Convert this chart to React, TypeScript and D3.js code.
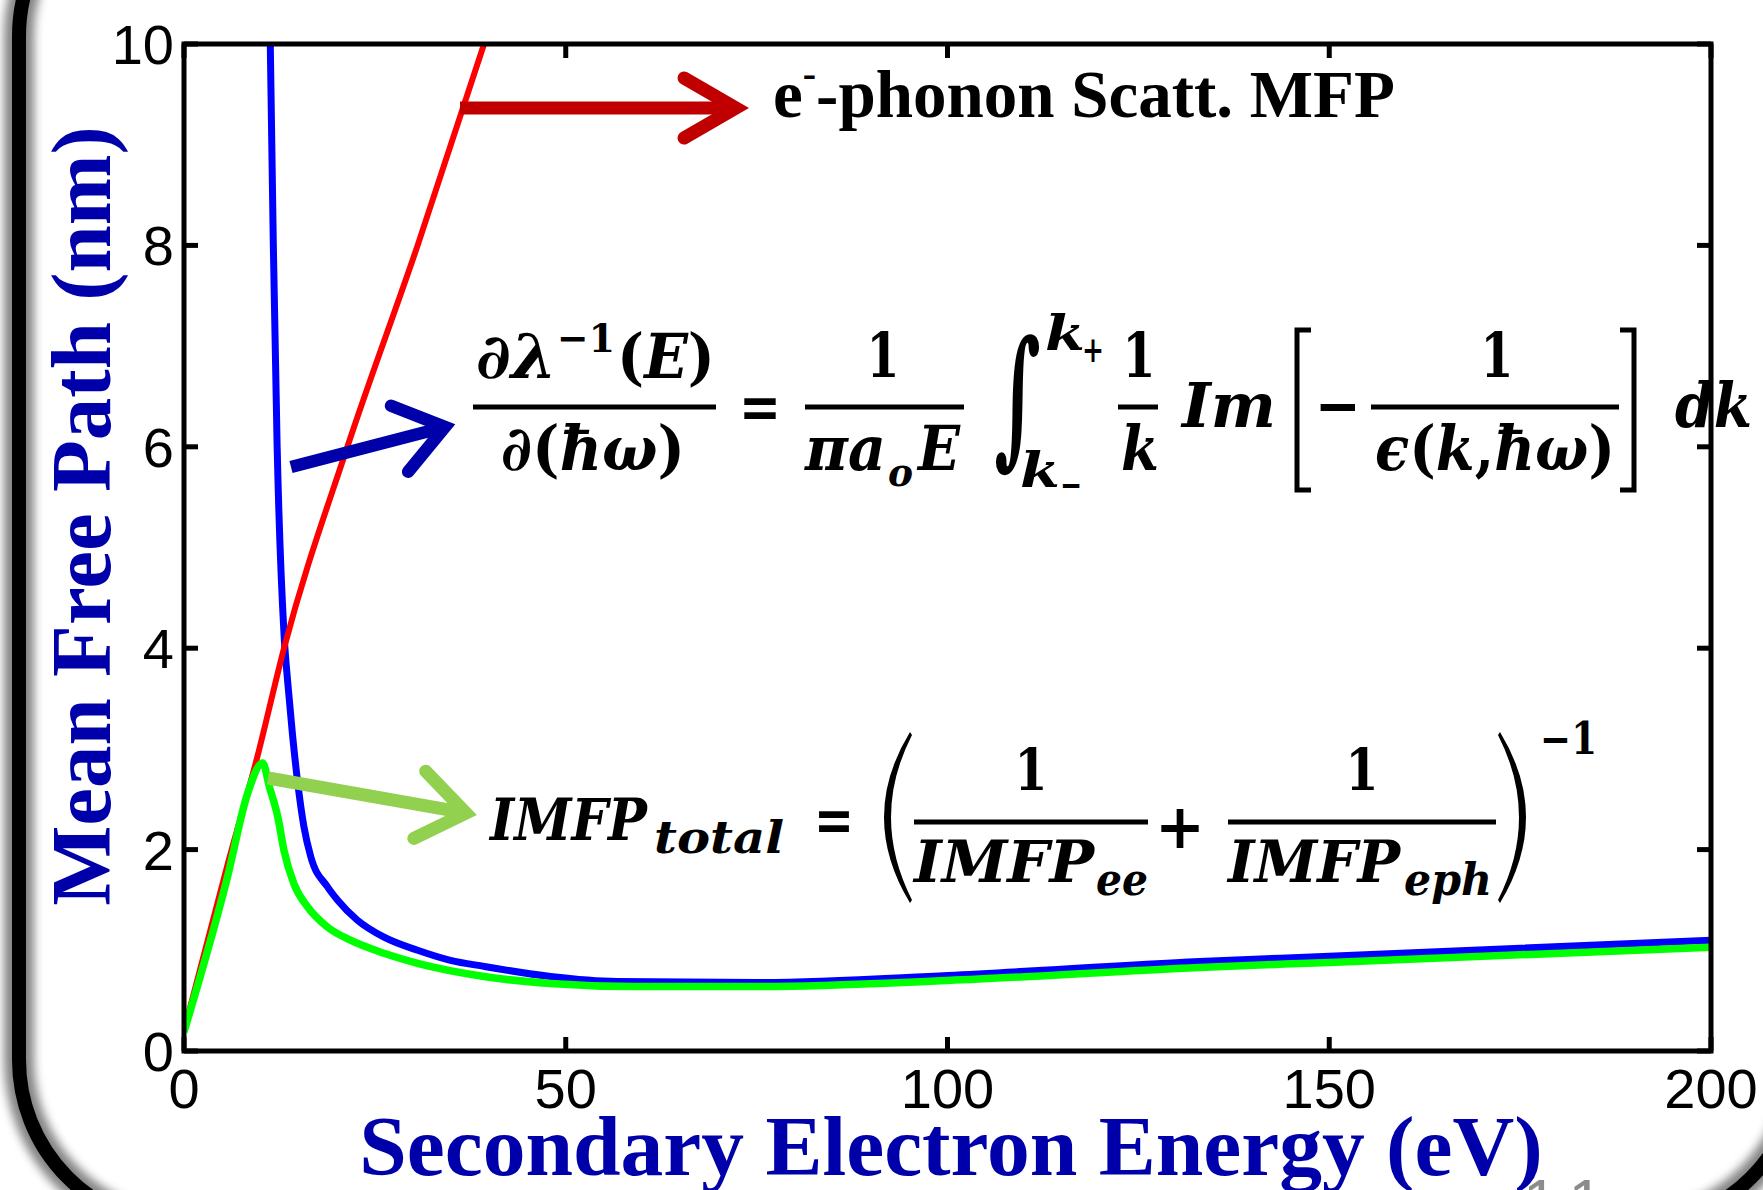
import React from 'react';
import * as d3 from 'd3';

// ---- data ----
const energyTicks = [0, 50, 100, 150, 200];
const mfpTicks = [0, 2, 4, 6, 8, 10];

// e-phonon scattering MFP (red)
const phononEnergy = [0, 5.7, 9.6, 13.1, 21.4, 30.6, 39.3];
const phononMFP = [0.2, 1.85, 2.92, 4.0, 6.0, 8.0, 10.0];

// e-e inelastic MFP (blue)
const eeEnergy = [11.3, 11.7, 12.2, 13.1, 13.6, 14.2, 14.9, 15.7, 16.6, 18.8, 20.1, 22.7, 26.2, 30.6, 34.9, 39.3, 48.0, 56.7, 75, 100, 133, 150, 200];
const eeMFP = [10, 8, 6, 4.14, 3.65, 3.15, 2.66, 2.23, 1.93, 1.63, 1.5, 1.3, 1.13, 1.0, 0.9, 0.84, 0.74, 0.69, 0.68, 0.75, 0.89, 0.94, 1.10];

// total IMFP (green)
const totalEnergy = [0, 5.7, 8.3, 10.3, 11.2, 12.3, 13.1, 14.4, 16.2, 18.8, 21.8, 26.2, 30.6, 39.3, 48, 58.9, 75, 100, 133, 150, 200];
const totalMFP = [0.19, 1.73, 2.55, 2.86, 2.62, 2.32, 1.99, 1.66, 1.43, 1.23, 1.10, 0.97, 0.87, 0.74, 0.67, 0.64, 0.64, 0.70, 0.83, 0.88, 1.03];

const xTitle = 'Secondary Electron Energy (eV)';
const yTitle = 'Mean Free Path (nm)';
const phononLabel = 'phonon Scatt. MFP';

const W = 1763;
const H = 1190;
const PL = 184, PR = 1711, PT = 44, PB = 1051;

const MF = "'DejaVu Serif', 'Liberation Serif', serif";
const TITLE_BLUE = '#0000AA';

function M({ x, y, w, size = 62, anchor = 'start', italic = true, children }: any) {
  return (
    <text
      x={x}
      y={y}
      fontFamily={MF}
      fontWeight="bold"
      fontStyle={italic ? 'italic' : 'normal'}
      fontSize={size}
      textAnchor={anchor}
      textLength={w}
      lengthAdjust="spacingAndGlyphs"
      fill="#000"
    >
      {children}
    </text>
  );
}

function arrowPath(tail: [number, number], tip: [number, number], arm: number, angDeg: number) {
  const dx = tip[0] - tail[0], dy = tip[1] - tail[1];
  const a = Math.atan2(dy, dx);
  const r = (angDeg * Math.PI) / 180;
  const a1 = a + Math.PI - r, a2 = a + Math.PI + r;
  const p1 = [tip[0] + arm * Math.cos(a1), tip[1] + arm * Math.sin(a1)];
  const p2 = [tip[0] + arm * Math.cos(a2), tip[1] + arm * Math.sin(a2)];
  const shaftEnd = [tip[0] - 6 * Math.cos(a), tip[1] - 6 * Math.sin(a)];
  return {
    shaft: `M${tail[0]},${tail[1]}L${shaftEnd[0]},${shaftEnd[1]}`,
    head: `M${p1[0]},${p1[1]}L${tip[0]},${tip[1]}L${p2[0]},${p2[1]}`,
  };
}

function Arrow({ tail, tip, arm, ang, color, width }: any) {
  const p = arrowPath(tail, tip, arm, ang);
  return (
    <g fill="none" stroke={color} strokeWidth={width}>
      <path d={p.shaft} strokeLinecap="butt" />
      <path d={p.head} strokeLinecap="round" strokeLinejoin="miter" />
    </g>
  );
}

export default function App() {
  const x = d3.scaleLinear().domain([0, 200]).range([PL, PR]);
  const y = d3.scaleLinear().domain([0, 10]).range([PB, PT]);

  const mk = (xs: number[], ys: number[], curve: any) =>
    d3
      .line<[number, number]>()
      .x((d) => x(d[0]))
      .y((d) => y(d[1]))
      .curve(curve)(xs.map((v, i) => [v, ys[i]] as [number, number])) || '';

  const redPath = mk(phononEnergy, phononMFP, d3.curveMonotoneX);
  const bluePath = mk(eeEnergy, eeMFP, d3.curveMonotoneX);
  const greenPath = mk(totalEnergy, totalMFP, d3.curveMonotoneX);

  const tickLen = 14;
  const frame = 'M19,36 L19,1060 A166,166 0 0 0 185,1226 L1634,1226 A166,166 0 0 0 1800,1060 L1800,36 A166,166 0 0 0 1634,-130 L185,-130 A166,166 0 0 0 19,36 Z';

  return (
    <svg
      width={W}
      height={H}
      viewBox={`0 0 ${W} ${H}`}
      style={{ position: 'absolute', left: 0, top: 0, display: 'block', background: '#fff' }}
    >
      <defs>
        <clipPath id="plotClip">
          <rect x={PL} y={PT} width={PR - PL} height={PB - PT} />
        </clipPath>
        <filter id="blur" x="-10%" y="-10%" width="120%" height="120%">
          <feGaussianBlur stdDeviation="5" />
        </filter>
      </defs>
      <rect x={0} y={0} width={W} height={H} fill="#fff" />

      {/* callout frame */}
      <path d={frame} fill="none" stroke="#6e6e6e" strokeWidth={30} filter="url(#blur)" opacity={0.85} />
      <path d={frame} fill="none" stroke="#000" strokeWidth={14} />

      {/* slide number fragment */}
      <text x={1523} y={1222} fontFamily="'Liberation Sans', Arial, sans-serif" fontSize={62} fill="#8c8c8c" letterSpacing={15.5}>
        11
      </text>

      {/* data lines */}
      <g clipPath="url(#plotClip)" fill="none" strokeLinejoin="round">
        <path d={bluePath} stroke="#0000FF" strokeWidth={7} />
        <path d={redPath} stroke="#FF0000" strokeWidth={6} />
        <path d={greenPath} stroke="#00FF00" strokeWidth={7.5} />
      </g>

      {/* annotation arrows */}
      <Arrow tail={[460, 108]} tip={[736, 108]} arm={60} ang={30} color="#C00000" width={13} />
      <Arrow tail={[291, 467]} tip={[445, 427]} arm={58} ang={36} color="#0000AA" width={12.5} />
      <Arrow tail={[268, 778]} tip={[466, 813]} arm={58} ang={36} color="#92D050" width={13} />

      {/* e- phonon label */}
      <text x={773} y={117} fontFamily="'Liberation Serif', 'Times New Roman', serif" fontWeight="bold" fontSize={67} fill="#000">
        e<tspan fontSize={40} dy={-30}>-</tspan>
        <tspan dy={30}>-</tspan>
        {phononLabel}
      </text>

      {/* equation 1 */}
      <g>
        <M x={476} y={378} w={81}>∂λ</M>
        <M x={557} y={352} w={58} size={40} italic={false}>−1</M>
        <M x={617} y={378} w={98}>
          <tspan fontStyle="normal">(</tspan>E<tspan fontStyle="normal">)</tspan>
        </M>
        <line x1={473} x2={716} y1={407} y2={407} stroke="#000" strokeWidth={5} />
        <M x={501} y={470} w={184}>
          ∂<tspan fontStyle="normal">(</tspan>ħω<tspan fontStyle="normal">)</tspan>
        </M>
        <M x={760} y={428} w={42} anchor="middle" italic={false}>=</M>
        <M x={883} y={377} w={33} anchor="middle" italic={false}>1</M>
        <line x1={805} x2={964} y1={407} y2={407} stroke="#000" strokeWidth={5} />
        <M x={805} y={470} w={81}>πa</M>
        <M x={888} y={486} w={25} size={40}>o</M>
        <M x={918} y={470} w={42}>E</M>
        <M x={994} y={448} w={47} size={150} italic={false}>∫</M>
        <M x={1045} y={350} w={40} size={48}>k</M>
        <M x={1082} y={362} w={22} size={36} italic={false}>+</M>
        <M x={1020} y={487} w={40} size={48}>k</M>
        <M x={1060} y={497} w={22} size={36} italic={false}>−</M>
        <M x={1139} y={377} w={33} anchor="middle" italic={false}>1</M>
        <line x1={1118} x2={1158} y1={407} y2={407} stroke="#000" strokeWidth={5} />
        <M x={1140} y={470} w={38} anchor="middle">k</M>
        <M x={1182} y={427} w={94}>Im</M>
        <path d="M1311,330 L1297,330 L1297,490 L1311,490" fill="none" stroke="#000" strokeWidth={5} />
        <M x={1338} y={427} w={46} anchor="middle" italic={false}>−</M>
        <line x1={1371} x2={1619} y1={407} y2={407} stroke="#000" strokeWidth={5} />
        <M x={1497} y={377} w={33} anchor="middle" italic={false}>1</M>
        <M x={1375} y={470} w={240}>
          ϵ<tspan fontStyle="normal">(</tspan>k<tspan fontStyle="normal">,</tspan>ħω<tspan fontStyle="normal">)</tspan>
        </M>
        <path d="M1620,330 L1634,330 L1634,490 L1620,490" fill="none" stroke="#000" strokeWidth={5} />
        <M x={1675} y={427} w={77}>dk</M>
      </g>

      {/* equation 2 */}
      <g>
        <M x={490} y={840} w={157} size={58}>IMFP</M>
        <M x={654} y={853} w={130} size={44}>total</M>
        <M x={834} y={841} w={40} anchor="middle" italic={false}>=</M>
        <path d="M910,732 Q858,817 910,903 L912,900 Q870,817 912,735 Z" fill="#000" />
        <M x={1031} y={790} w={33} size={58} anchor="middle" italic={false}>1</M>
        <line x1={914} x2={1148} y1={822} y2={822} stroke="#000" strokeWidth={5} />
        <M x={914} y={882} w={180} size={58}>IMFP</M>
        <M x={1096} y={895} w={52} size={44}>ee</M>
        <M x={1180} y={848} w={50} anchor="middle" italic={false}>+</M>
        <M x={1362} y={790} w={33} size={58} anchor="middle" italic={false}>1</M>
        <line x1={1228} x2={1496} y1={822} y2={822} stroke="#000" strokeWidth={5} />
        <M x={1228} y={882} w={172} size={58}>IMFP</M>
        <M x={1404} y={895} w={88} size={44}>eph</M>
        <path d="M1500,732 Q1552,817 1500,903 L1498,900 Q1540,817 1498,735 Z" fill="#000" />
        <M x={1540} y={754} w={57} size={44} italic={false}>−1</M>
      </g>

      {/* axes box */}
      <g stroke="#000" strokeWidth={5} fill="none">
        <rect x={PL} y={PT} width={PR - PL} height={PB - PT} />
        {energyTicks.map((t) => (
          <g key={'xt' + t}>
            <line x1={x(t)} x2={x(t)} y1={PB} y2={PB - tickLen} />
            <line x1={x(t)} x2={x(t)} y1={PT} y2={PT + tickLen} />
          </g>
        ))}
        {mfpTicks.map((t) => (
          <g key={'yt' + t}>
            <line x1={PL} x2={PL + tickLen} y1={y(t)} y2={y(t)} />
            <line x1={PR} x2={PR - tickLen} y1={y(t)} y2={y(t)} />
          </g>
        ))}
      </g>
      <g fontFamily="'Liberation Sans', Arial, sans-serif" fontSize={56} fill="#000">
        {energyTicks.map((t) => (
          <text key={'xl' + t} x={x(t)} y={1108} textAnchor="middle">
            {t}
          </text>
        ))}
        {mfpTicks.map((t) => (
          <text key={'yl' + t} x={174} y={y(t) + 20} textAnchor="end">
            {t}
          </text>
        ))}
      </g>

      {/* axis titles */}
      <text
        x={951}
        y={1175}
        textAnchor="middle"
        fontFamily="'Liberation Serif', 'Times New Roman', serif"
        fontWeight="bold"
        fontSize={85.5}
        fill={TITLE_BLUE}
      >
        {xTitle}
      </text>
      <text
        transform="translate(110,516) rotate(-90)"
        textAnchor="middle"
        fontFamily="'Liberation Serif', 'Times New Roman', serif"
        fontWeight="bold"
        fontSize={85}
        fill={TITLE_BLUE}
      >
        {yTitle}
      </text>
    </svg>
  );
}
